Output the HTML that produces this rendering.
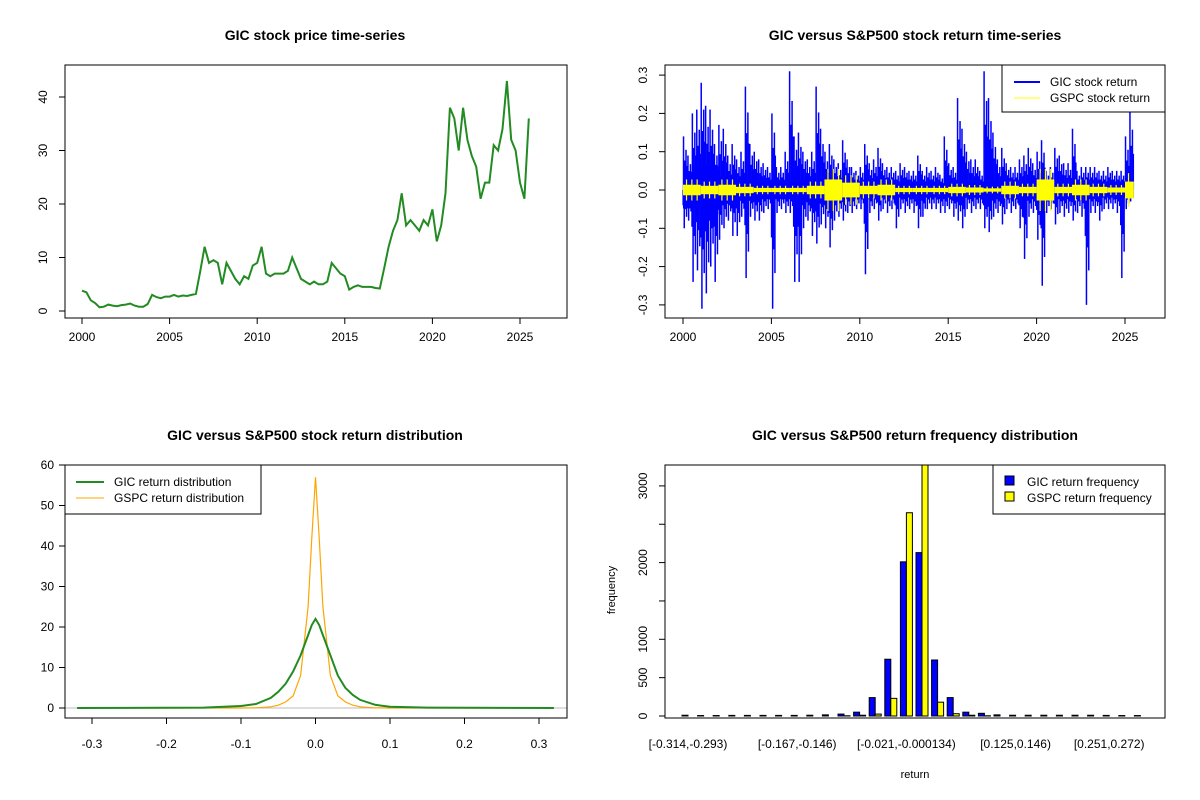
<!DOCTYPE html>
<html><head><meta charset="utf-8"><style>
body{margin:0;background:#fff}
svg{display:block;font-family:"Liberation Sans",Arial,sans-serif}
</style></head><body>
<svg id="s" width="1200" height="800" xmlns="http://www.w3.org/2000/svg"></svg>
<script>
// ---------- data ----------
const priceStartYear = 2000;
const priceQuarterly = [3.8,3.5,2.0,1.5, 0.7,0.8,1.2,1.0, 0.9,1.1,1.2,1.4, 1.0,0.8,0.8,1.3, 3.0,2.6,2.4,2.7, 2.7,3.0,2.7,2.9, 2.8,3.0,3.2,7.5, 12,9,9.5,9, 5,9,7.5,6, 5,6.5,6,8.5, 9,12,7,6.5, 7,7,7,7.5, 10,8,6,5.5, 5,5.5,5,5, 5.5,9,8,7, 6.5,4,4.5,4.8, 4.5,4.5,4.5,4.3, 4.2,8,12,15, 17,22,16,17, 16,15,17,16, 19,13,16,22, 38,36,30,38, 32,29,27,21, 24,24,31,30, 34,43,32,30, 24,21,36];
const gicHi = [.14,.09,.20,.21, .28,.22,.21,.12, .17,.16,.09,.12, .08,.10,.27,.12, .10,.08,.07,.06, .20,.06,.06,.10, .31,.14,.15,.10, .08,.10,.27,.16, .10,.12,.08,.07, .13,.08,.06,.05, .06,.12,.07,.08, .11,.07,.06,.06, .05,.07,.06,.05, .05,.09,.05,.06, .05,.06,.04,.14, .07,.06,.24,.16, .10,.08,.08,.05, .31,.24,.15,.08, .11,.07,.06,.06, .08,.09,.11,.07, .10,.13,.05,.06, .11,.09,.07,.07, .16,.05,.06,.06, .06,.06,.05,.05, .06,.05,.05,.05, .14,.21];
const gicLo = [-.10,-.08,-.24,-.21, -.31,-.27,-.20,-.24, -.13,-.10,-.08,-.12, -.12,-.07,-.23,-.07, -.08,-.08,-.06,-.05, -.31,-.06,-.05,-.06, -.06,-.24,-.24,-.10, -.08,-.12,-.14,-.09, -.10,-.15,-.08,-.07, -.08,-.06,-.06,-.05, -.05,-.22,-.06,-.05, -.08,-.05,-.06,-.05, -.10,-.05,-.06,-.05, -.06,-.10,-.07,-.05, -.05,-.05,-.06,-.06, -.05,-.07,-.08,-.10, -.05,-.06,-.05,-.05, -.10,-.11,-.07,-.06, -.09,-.05,-.06,-.05, -.10,-.18,-.07,-.06, -.13,-.25,-.06,-.05, -.09,-.06,-.07,-.06, -.08,-.06,-.07,-.30, -.06,-.06,-.08,-.05, -.05,-.05,-.06,-.23, -.05,-.03];
const gicBand = [.06,.08,.045,.035,.03,.03,.03,.03,.03,.03,.025,.025,.02,.02,.02,.025,.025,.03,.025,.025,.03,.025,.025,.02,.02,.025];
const gspcBand = [.025,.02,.025,.015,.01,.01,.01,.02,.05,.035,.02,.025,.01,.01,.01,.015,.012,.008,.02,.015,.05,.015,.025,.015,.012,.04];
const densX = [-0.32,-0.15,-0.1,-0.08,-0.06,-0.05,-0.04,-0.03,-0.02,-0.01,-0.005,0,0.005,0.01,0.02,0.03,0.04,0.05,0.06,0.08,0.1,0.15,0.32];
const gicDens = [0,0.1,0.5,1,2.5,4,6,9,13,18,20.5,22,20.5,18,13,8,5,3.2,2,0.8,0.3,0.1,0];
const gspcDens = [0,0,0,0.05,0.3,0.7,1.5,3,8,25,42,57,42,25,8,3,1.5,0.7,0.3,0.05,0,0,0];
const binLabels = ["[-0.314,-0.293)","[-0.167,-0.146)","[-0.021,-0.000134)","[0.125,0.146)","[0.251,0.272)"];
const binLabelIdx = [0,7,14,21,27];
const gicFreq = [10,6,6,8,8,8,8,8,10,15,25,50,240,740,2010,2130,730,240,50,35,15,10,10,10,10,10,10,8,6,6];
const gspcFreq = [0,0,0,0,0,0,0,0,0,0,3,10,25,230,2650,3300,180,30,10,3,0,0,0,0,0,0,0,0,0,0];

// ---------- helpers ----------
const S=document.getElementById('s'),NS='http://www.w3.org/2000/svg';
function el(t,a,p){const e=document.createElementNS(NS,t);for(const k in a)e.setAttribute(k,a[k]);(p||S).appendChild(e);return e;}
function txt(x,y,s,a,p){const e=el('text',Object.assign({x:x,y:y,'font-size':12,'text-anchor':'middle',fill:'#000'},a||{}),p);e.textContent=s;return e;}
function box(x0,y0,x1,y1,name){const r=el('rect',{x:x0,y:y0,width:x1-x0,height:y1-y0,fill:'none',stroke:'#000','stroke-width':1});

}
function clip(id,x0,y0,x1,y1){const c=el('clipPath',{id:id});el('rect',{x:x0,y:y0,width:x1-x0,height:y1-y0},c);}

// ===== Panel 1: price =====
{
const g=el('g',{});


const X=y=>82+(y-2000)*17.52, Y=v=>311-v*5.35;
const t=txt(315,40,'GIC stock price time-series',{'font-size':14,'font-weight':'bold'},g);


let d='';priceQuarterly.forEach((v,i)=>{d+=(i?'L':'M')+X(priceStartYear+i*0.25).toFixed(1)+','+Y(v).toFixed(1);});
const p=el('path',{d:d,fill:'none',stroke:'#228B22','stroke-width':2},g);


[2000,2005,2010,2015,2020,2025].forEach(y=>{el('line',{x1:X(y),x2:X(y),y1:318,y2:324,stroke:'#000'},g);txt(X(y),341,String(y),{},g);});
el('line',{x1:X(2000),x2:X(2025),y1:318,y2:318,stroke:'#000'},g);
[0,10,20,30,40].forEach(v=>{el('line',{x1:59,x2:65,y1:Y(v),y2:Y(v),stroke:'#000'},g);txt(0,0,String(v),{transform:`translate(47,${Y(v)}) rotate(-90)`},g);});
box(65,65,567,318,'price-plot-area');
}
// ===== Panel 2: returns =====
{
const g=el('g',{'clip-path':'url(#c2)'});
clip('c2',665,65,1165,318);


const X=y=>683+(y-2000)*17.68, Y=v=>190-v*383;
const END=2025.5;
const t=txt(915,40,'GIC versus S&P500 stock return time-series',{'font-size':14,'font-weight':'bold'});


gicBand.forEach((b,i)=>{const x0=X(2000+i),x1=X(Math.min(2000+i+1,END));
el('rect',{x:x0,y:Y(b*0.8),width:x1-x0,height:Y(-b*0.8)-Y(b*0.8),fill:'#0000FF'},g);});
gicHi.forEach((v,i)=>{const yr=2000+i*0.25;
[[0.03,1],[0.1,0.55],[0.17,0.75],[0.22,0.45]].forEach(([o,f])=>{
el('line',{x1:X(yr+o),x2:X(yr+o),y1:Y(0),y2:Y(v*f),stroke:'#0000FF','stroke-width':1.5},g);});});
gicLo.forEach((v,i)=>{const yr=2000+i*0.25;
[[0.07,1],[0.13,0.5],[0.2,0.7],[0.01,0.4]].forEach(([o,f])=>{
el('line',{x1:X(yr+o),x2:X(yr+o),y1:Y(0),y2:Y(v*f),stroke:'#0000FF','stroke-width':1.5},g);});});
gspcBand.forEach((b,i)=>{const x0=X(2000+i),x1=X(Math.min(2000+i+1,END));
el('rect',{x:x0,y:Y(b*0.55),width:x1-x0,height:Y(-b*0.55)-Y(b*0.55),fill:'#FFFF00'},g);
[0.2,0.5,0.8].forEach(o=>{if(2000+i+o<END)el('line',{x1:X(2000+i+o),x2:X(2000+i+o),y1:Y(b*1.1),y2:Y(-b*1.1),stroke:'#FFFF00','stroke-width':1.2},g);});});
[2000,2005,2010,2015,2020,2025].forEach(y=>{el('line',{x1:X(y),x2:X(y),y1:318,y2:324,stroke:'#000'});txt(X(y),341,String(y));});
el('line',{x1:X(2000),x2:X(2025),y1:318,y2:318,stroke:'#000'});
[-0.3,-0.2,-0.1,0,0.1,0.2,0.3].forEach(v=>{el('line',{x1:659,x2:665,y1:Y(v),y2:Y(v),stroke:'#000'});txt(0,0,v.toFixed(1),{transform:`translate(647,${Y(v)}) rotate(-90)`});});
const lg=el('g',{});


el('rect',{x:1002,y:65,width:163,height:47,fill:'#fff',stroke:'#000'},lg);
el('line',{x1:1014,x2:1040,y1:82,y2:82,stroke:'#0000FF','stroke-width':2},lg);
el('line',{x1:1014,x2:1040,y1:98,y2:98,stroke:'#FFFF00','stroke-width':1},lg);
txt(1050,86,'GIC stock return',{'text-anchor':'start'},lg);
txt(1050,102,'GSPC stock return',{'text-anchor':'start'},lg);
box(665,65,1165,318,'return-plot-area');
}
// ===== Panel 3: density =====
{
const X=v=>315.5+v*745, Y=v=>708-v*4.05;
const t=txt(315,440,'GIC versus S&P500 stock return distribution',{'font-size':14,'font-weight':'bold'});


el('line',{x1:65,x2:567,y1:Y(0),y2:Y(0),stroke:'#bbb'});
let d1='',d2='';densX.forEach((x,i)=>{d1+=(i?'L':'M')+X(x).toFixed(1)+','+Y(gicDens[i]).toFixed(1);d2+=(i?'L':'M')+X(x).toFixed(1)+','+Y(gspcDens[i]).toFixed(1);});
const a=el('path',{d:d2,fill:'none',stroke:'#FFA500','stroke-width':1.2});


const b=el('path',{d:d1,fill:'none',stroke:'#228B22','stroke-width':2});


[-0.3,-0.2,-0.1,0,0.1,0.2,0.3].forEach(v=>{el('line',{x1:X(v),x2:X(v),y1:718,y2:724,stroke:'#000'});txt(X(v),748,v.toFixed(1));});
el('line',{x1:X(-0.3),x2:X(0.3),y1:718,y2:718,stroke:'#000'});
[0,10,20,30,40,50,60].forEach(v=>{el('line',{x1:59,x2:65,y1:Y(v),y2:Y(v),stroke:'#000'});txt(54,Y(v)+4,String(v),{'text-anchor':'end'});});
const lg=el('g',{});


el('rect',{x:65,y:465,width:196,height:49,fill:'#fff',stroke:'#000'},lg);
el('line',{x1:76,x2:104,y1:482,y2:482,stroke:'#228B22','stroke-width':2},lg);
el('line',{x1:76,x2:104,y1:498,y2:498,stroke:'#FFA500','stroke-width':1},lg);
txt(114,486,'GIC return distribution',{'text-anchor':'start'},lg);
txt(114,502,'GSPC return distribution',{'text-anchor':'start'},lg);
box(65,465,567,718,'density-plot-area');
}
// ===== Panel 4: frequency bars =====
{
clip('c4',665,465,1165,718);
const g=el('g',{'clip-path':'url(#c4)'});


const GX=i=>688+i*15.6, Y=v=>716-v*0.0767;
const t=txt(915,440,'GIC versus S&P500 return frequency distribution',{'font-size':14,'font-weight':'bold'});


gicFreq.forEach((v,i)=>{const r=el('rect',{x:GX(i)-6,y:Y(v),width:6,height:Y(0)-Y(v),fill:'#0000FF',stroke:'#000','stroke-width':1},g);

});
gspcFreq.forEach((v,i)=>{const r=el('rect',{x:GX(i),y:Y(v),width:6,height:Y(0)-Y(v),fill:'#FFFF00',stroke:'#000','stroke-width':1},g);

});
binLabelIdx.forEach((k,j)=>txt(GX(k),748,binLabels[j]));
[0,500,1000,1500,2000,2500,3000].forEach(v=>{el('line',{x1:659,x2:665,y1:Y(v),y2:Y(v),stroke:'#000'});if(v%1000===0||v===500)txt(0,0,String(v),{transform:`translate(647,${Y(v)}) rotate(-90)`});});
el('line',{x1:665,x2:665,y1:Y(0),y2:Y(3000),stroke:'#000'});
txt(915,778,'return',{'font-size':11});
txt(0,0,'frequency',{'font-size':11,transform:'translate(615,590) rotate(-90)'});
const lg=el('g',{});


el('rect',{x:993,y:465,width:172,height:49,fill:'#fff',stroke:'#000'},lg);
el('rect',{x:1005,y:476,width:9,height:9,fill:'#0000FF',stroke:'#000'},lg);
el('rect',{x:1005,y:492,width:9,height:9,fill:'#FFFF00',stroke:'#000'},lg);
txt(1027,486,'GIC return frequency',{'text-anchor':'start'},lg);
txt(1027,502,'GSPC return frequency',{'text-anchor':'start'},lg);
box(665,465,1165,718,'frequency-plot-area');
}
</script>
</body></html>
